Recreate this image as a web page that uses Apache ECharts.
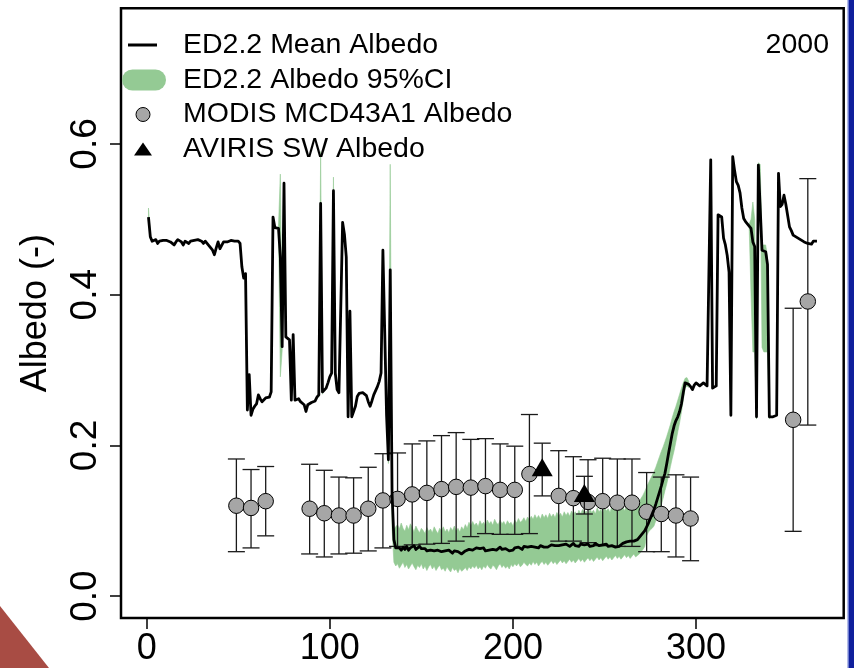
<!DOCTYPE html>
<html><head><meta charset="utf-8">
<script src="https://cdn.jsdelivr.net/npm/echarts@6/dist/echarts.min.js"></script>
<style>html,body{margin:0;padding:0;background:#fff}#c{width:854px;height:668px}</style>
</head><body><div id="c"></div>
<script>
// ED2.2 mean albedo, one value per day of year (day 1 .. 366)
const meanAlbedo = [
0.503,0.477,0.471,0.472,0.473,0.468,0.471,0.473,0.472,0.471,
0.472,0.471,0.470,0.468,0.466,0.470,0.473,0.471,0.470,0.466,
0.471,0.472,0.468,0.471,0.473,0.472,0.472,0.473,0.472,0.471,
0.468,0.471,0.472,0.465,0.462,0.459,0.453,0.462,0.470,0.461,
0.459,0.470,0.468,0.470,0.471,0.472,0.472,0.471,0.472,0.471,
0.468,0.437,0.422,0.428,0.247,0.294,0.240,0.248,0.252,0.255,
0.267,0.262,0.258,0.260,0.263,0.262,0.264,0.271,0.503,0.489,
0.488,0.488,0.450,0.331,0.548,0.344,0.344,0.340,0.260,0.347,
0.260,0.258,0.262,0.258,0.256,0.254,0.245,0.254,0.256,0.257,
0.255,0.259,0.264,0.267,0.521,0.271,0.272,0.276,0.283,0.291,
0.296,0.538,0.296,0.274,0.270,0.272,0.496,0.480,0.450,0.238,
0.378,0.238,0.245,0.252,0.265,0.269,0.268,0.270,0.271,0.266,
0.258,0.252,0.259,0.267,0.268,0.278,0.285,0.296,0.459,0.350,
0.240,0.181,0.433,0.137,0.075,0.064,0.062,0.064,0.061,0.065,
0.062,0.066,0.061,0.064,0.063,0.067,0.062,0.064,0.066,0.063,
0.061,0.063,0.060,0.062,0.061,0.063,0.060,0.062,0.061,0.063,
0.059,0.061,0.060,0.058,0.061,0.059,0.057,0.060,0.058,0.059,
0.057,0.056,0.058,0.060,0.059,0.062,0.064,0.061,0.063,0.064,
0.062,0.063,0.061,0.064,0.060,0.062,0.061,0.063,0.062,0.064,
0.061,0.063,0.065,0.062,0.064,0.063,0.061,0.060,0.062,0.061,
0.064,0.063,0.065,0.063,0.062,0.066,0.067,0.065,0.064,0.066,
0.068,0.065,0.066,0.064,0.067,0.066,0.065,0.067,0.065,0.066,
0.068,0.066,0.067,0.065,0.067,0.066,0.068,0.067,0.069,0.067,
0.066,0.068,0.070,0.067,0.068,0.066,0.069,0.071,0.068,0.067,
0.069,0.066,0.068,0.067,0.070,0.068,0.067,0.066,0.068,0.067,
0.069,0.066,0.065,0.067,0.066,0.065,0.067,0.066,0.068,0.070,
0.069,0.072,0.070,0.073,0.071,0.073,0.074,0.075,0.077,0.081,
0.083,0.087,0.092,0.097,0.103,0.109,0.115,0.122,0.130,0.138,
0.146,0.155,0.163,0.176,0.190,0.203,0.216,0.226,0.233,0.238,
0.245,0.255,0.270,0.283,0.285,0.281,0.278,0.274,0.280,0.283,
0.281,0.279,0.277,0.283,0.281,0.279,0.279,0.579,0.276,0.274,
0.279,0.506,0.506,0.503,0.475,0.466,0.452,0.430,0.240,0.583,
0.565,0.550,0.545,0.535,0.515,0.501,0.497,0.497,0.491,0.488,
0.470,0.464,0.238,0.572,0.570,0.459,0.458,0.457,0.440,0.238,
0.238,0.238,0.238,0.240,0.561,0.517,0.520,0.532,0.520,0.505,
0.490,0.485,0.479,0.477,0.476,0.474,0.473,0.471,0.470,0.469,
0.468,0.470,0.467,0.471,0.470,0.471
];

// ED2.2 95% CI band, read where it shows beyond the mean line (segments of consecutive days)
const ciStartDay = [1, 72, 94, 101, 131, 329];
const ciLow = [
  [0.500,0.474],
  [0.485,0.291,0.326],
  [0.264,0.517,0.268],
  [0.293,0.535,0.293],
  [0.237,0.176,0.400,0.090,0.045,
   0.040,0.043,0.037,0.041,0.045,0.038,0.042,0.036,0.040,0.044,
   0.039,0.035,0.041,0.038,0.043,0.036,0.040,0.034,0.039,0.042,
   0.036,0.040,0.034,0.038,0.041,0.035,0.037,0.033,0.039,0.035,
   0.032,0.038,0.034,0.036,0.031,0.037,0.033,0.035,0.038,0.034,
   0.039,0.036,0.040,0.037,0.041,0.036,0.039,0.035,0.040,0.037,
   0.042,0.038,0.036,0.041,0.039,0.035,0.040,0.043,0.038,0.041,
   0.037,0.040,0.036,0.042,0.039,0.043,0.040,0.044,0.039,0.041,
   0.045,0.042,0.040,0.044,0.041,0.046,0.042,0.045,0.040,0.044,
   0.046,0.042,0.045,0.041,0.044,0.047,0.043,0.046,0.042,0.045,
   0.048,0.044,0.047,0.043,0.046,0.049,0.045,0.048,0.044,0.047,
   0.050,0.046,0.049,0.045,0.048,0.051,0.047,0.050,0.046,0.049,
   0.052,0.048,0.051,0.047,0.050,0.053,0.049,0.052,0.048,0.051,
   0.054,0.050,0.053,0.049,0.052,0.055,0.051,0.054,0.050,0.053,
   0.056,0.052,
   0.054,0.056,0.059,0.062,0.066,0.080,0.085,0.088,0.090,0.093,
   0.100,0.108,0.115,0.121,0.130,0.140,0.149,0.160,0.172,0.183,
   0.193,0.205,0.218,0.230,0.244,0.260,0.276,0.279,0.277],
  [0.488,0.400,0.324,0.324,0.235,0.569,0.567,0.330,0.324,0.324,0.324,0.235]
];
const ciHigh = [
  [0.515,0.480],
  [0.491,0.560,0.336],
  [0.270,0.590,0.274],
  [0.299,0.556,0.299],
  [0.243,0.187,0.573,0.150,0.088,
   0.092,0.095,0.089,0.097,0.090,0.086,0.094,0.088,0.096,0.091,
   0.085,0.093,0.088,0.084,0.090,0.087,0.083,0.091,0.086,0.089,
   0.084,0.092,0.087,0.083,0.090,0.086,0.092,0.085,0.089,0.084,
   0.091,0.087,0.093,0.086,0.090,0.085,0.092,0.088,0.095,0.090,
   0.098,0.093,0.099,0.094,0.097,0.092,0.100,0.095,0.098,0.093,
   0.101,0.096,0.099,0.094,0.102,0.097,0.095,0.101,0.096,0.099,
   0.094,0.100,0.096,0.098,0.093,0.101,0.097,0.103,0.098,0.100,
   0.104,0.099,0.105,0.101,0.106,0.102,0.108,0.103,0.107,0.102,
   0.109,0.104,0.108,0.103,0.110,0.105,0.109,0.104,0.111,0.106,
   0.110,0.105,0.112,0.107,0.111,0.106,0.113,0.108,0.112,0.107,
   0.114,0.109,0.115,0.110,0.113,0.108,0.116,0.111,0.114,0.109,
   0.117,0.112,0.115,0.110,0.118,0.113,0.116,0.111,0.119,0.114,
   0.117,0.112,0.120,0.115,0.118,0.113,0.121,0.116,0.119,0.122,
   0.118,0.125,
   0.122,0.126,0.130,0.134,0.139,0.145,0.150,0.155,0.160,0.165,
   0.171,0.178,0.185,0.192,0.198,0.205,0.212,0.220,0.228,0.237,
   0.245,0.252,0.260,0.268,0.276,0.283,0.289,0.290,0.285],
  [0.494,0.500,0.523,0.500,0.241,0.575,0.573,0.466,0.466,0.466,0.450,0.241]
];

// MODIS MCD43A1 albedo (8-day) with error bars
const modisDay    = [49,57,65,89,97,105,113,121,129,137,145,153,161,169,177,185,193,201,209,225,233,241,249,257,265,273,281,289,297,353,361];
const modisAlbedo = [0.120,0.117,0.126,0.116,0.110,0.107,0.107,0.116,0.127,0.129,0.135,0.137,0.142,0.145,0.144,0.146,0.141,0.141,0.162,0.133,0.130,0.125,0.126,0.124,0.124,0.112,0.109,0.107,0.103,0.234,0.391];
const modisLow    = [0.059,0.064,0.080,0.056,0.052,0.056,0.057,0.060,0.064,0.066,0.068,0.069,0.070,0.073,0.079,0.083,0.082,0.082,0.083,0.073,0.073,0.071,0.067,0.066,0.066,0.059,0.059,0.052,0.047,0.086,0.227];
const modisHigh   = [0.182,0.168,0.172,0.175,0.167,0.158,0.157,0.171,0.189,0.190,0.202,0.206,0.213,0.217,0.208,0.209,0.202,0.199,0.241,0.193,0.185,0.181,0.183,0.182,0.182,0.164,0.158,0.161,0.158,0.382,0.554];

// AVIRIS SW albedo
const avirisDay    = [216, 239];
const avirisAlbedo = [0.171, 0.137];
const avirisLow    = [0.133, 0.109];
const avirisHigh   = [0.203, 0.159];

const xTicks = [0, 100, 200, 300];
const yTicks = [0, 0.2, 0.4, 0.6];
const legendLabels = ['ED2.2 Mean Albedo', 'ED2.2 Albedo 95%CI', 'MODIS MCD43A1 Albedo', 'AVIRIS SW Albedo'];
const yearLabel = '2000';
const yAxisTitle = 'Albedo (-)';

const FONT = '"Liberation Sans", Arial, Helvetica, sans-serif';
const GREEN = '#94ca94';
const GRAY = '#a6a6a6';

const chart = echarts.init(document.getElementById('c'), null, {renderer: 'canvas'});

function errorBarItem(color, lw, capHalf) {
  return function (params, api) {
    const x = api.value(0);
    const a = api.coord([x, api.value(1)]);
    const b = api.coord([x, api.value(2)]);
    const st = {stroke: color, lineWidth: lw};
    return {type: 'group', children: [
      {type: 'line', shape: {x1: a[0], y1: a[1], x2: b[0], y2: b[1]}, style: st},
      {type: 'line', shape: {x1: a[0] - capHalf, y1: a[1], x2: a[0] + capHalf, y2: a[1]}, style: st},
      {type: 'line', shape: {x1: b[0] - capHalf, y1: b[1], x2: b[0] + capHalf, y2: b[1]}, style: st}
    ]};
  };
}

const legendRowY = [45, 80, 114.5, 149.5];

const option = {
  animation: false,
  backgroundColor: '#ffffff',
  grid: {left: 121, right: 10.3, top: 8.3, bottom: 50, show: true, borderColor: '#000', borderWidth: 2.5, backgroundColor: '#fff', containLabel: false, outerBoundsMode: 'none'},
  xAxis: {
    type: 'value', min: -14, max: 380.6,
    splitLine: {show: false},
    axisLine: {show: false, onZero: false},
    axisTick: {show: true, inside: false, length: 11, lineStyle: {color: '#000', width: 1.5}, customValues: xTicks},
    axisLabel: {customValues: xTicks, fontSize: 36, color: '#000', fontFamily: FONT, margin: 13}
  },
  yAxis: {
    type: 'value', min: -0.029, max: 0.78,
    splitLine: {show: false},
    axisLine: {show: false, onZero: false},
    axisTick: {show: true, inside: false, length: 11, lineStyle: {color: '#000', width: 1.5}, customValues: yTicks},
    axisLabel: {customValues: yTicks, fontSize: 37, color: '#000', fontFamily: FONT, margin: 17, rotate: 90,
      formatter: v => Number(v).toFixed(1)},
    name: yAxisTitle, nameLocation: 'middle', nameGap: 67, nameRotate: 90,
    nameTextStyle: {fontSize: 36, color: '#000', fontFamily: FONT}
  },
  series: [
    {
      name: legendLabels[1], type: 'custom', z: 2, clip: true,
      data: ciStartDay.map((d, i) => [d, ciLow[i][0]]),
      encode: {x: 0, y: 1},
      renderItem: function (params, api) {
        const s = params.dataIndex;
        const start = ciStartDay[s];
        const lo = ciLow[s], hi = ciHigh[s];
        const pts = [];
        for (let k = 0; k < hi.length; k++) pts.push(api.coord([start + k, hi[k]]));
        for (let k = lo.length - 1; k >= 0; k--) pts.push(api.coord([start + k, lo[k]]));
        return {type: 'polygon', shape: {points: pts}, style: {fill: GREEN, stroke: GREEN, lineWidth: 0.6}};
      }
    },
    {
      name: 'MODIS error', type: 'custom', z: 3,
      data: modisDay.map((d, i) => [d, modisLow[i], modisHigh[i]]),
      encode: {x: 0, y: [1, 2]},
      renderItem: errorBarItem('#1a1a1a', 1.3, 8.5)
    },
    {
      name: legendLabels[2], type: 'scatter', z: 4,
      data: modisDay.map((d, i) => [d, modisAlbedo[i]]),
      symbol: 'circle', symbolSize: 15.5,
      itemStyle: {color: GRAY, borderColor: '#000', borderWidth: 1, opacity: 1}
    },
    {
      name: legendLabels[0], type: 'line', z: 5,
      data: meanAlbedo.map((v, i) => [i + 1, v]),
      showSymbol: false, symbol: 'none',
      lineStyle: {color: '#000', width: 2.8, join: 'round'}
    },
    {
      name: 'AVIRIS error', type: 'custom', z: 6,
      data: avirisDay.map((d, i) => [d, avirisLow[i], avirisHigh[i]]),
      encode: {x: 0, y: [1, 2]},
      renderItem: errorBarItem('#1a1a1a', 1.3, 8.5)
    },
    {
      name: legendLabels[3], type: 'scatter', z: 7,
      data: avirisDay.map((d, i) => [d, avirisAlbedo[i]]),
      symbol: 'triangle', symbolSize: [21, 18],
      itemStyle: {color: '#000', opacity: 1}
    }
  ],
  graphic: [
    // slide decorations around the figure
    {type: 'polygon', z: 0, shape: {points: [[0, 606], [0, 668], [49, 668]]}, style: {fill: '#a84c44'}},
    {type: 'rect', z: 0, shape: {x: 849, y: 0, width: 5, height: 668}, style: {fill: '#0f1f9c'}},
    {type: 'rect', z: 0, shape: {x: 847.5, y: 0, width: 1.5, height: 668}, style: {fill: '#6c7bd0'}},
    // legend
    {type: 'line', z: 10, shape: {x1: 128, y1: legendRowY[0], x2: 157, y2: legendRowY[0]}, style: {stroke: '#000', lineWidth: 3}},
    {type: 'rect', z: 10, shape: {x: 122, y: legendRowY[1] - 10.5, width: 44, height: 21, r: 10.5}, style: {fill: GREEN}},
    {type: 'circle', z: 10, shape: {cx: 143, cy: legendRowY[2], r: 7}, style: {fill: GRAY, stroke: '#000', lineWidth: 1}},
    {type: 'polygon', z: 10, shape: {points: [[134, legendRowY[3] + 6], [152, legendRowY[3] + 6], [143, legendRowY[3] - 7]]}, style: {fill: '#000'}},
    ...legendLabels.map((t, i) => ({type: 'text', z: 10, x: 183, y: legendRowY[i],
      style: {text: t, fontSize: 28.5, fontFamily: FONT, fill: '#000', align: 'left', verticalAlign: 'middle'}})),
    {type: 'text', z: 10, x: 829, y: legendRowY[0],
      style: {text: yearLabel, fontSize: 28.5, fontFamily: FONT, fill: '#000', align: 'right', verticalAlign: 'middle'}}
  ]
};
chart.setOption(option);
</script>
</body></html>
